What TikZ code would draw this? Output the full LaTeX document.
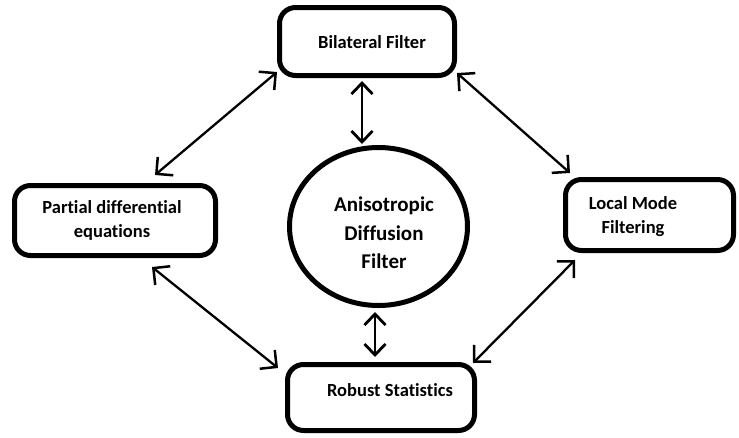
\documentclass[tikz,border=0pt]{standalone}
\usepackage{fontspec}
\setmainfont[Ligatures=NoCommon]{Carlito}
\usetikzlibrary{arrows.meta,calc,shapes.geometric}
\begin{document}
\begin{tikzpicture}[x=1pt,y=-1pt,
  box/.style={draw,line width=5pt,rounded corners=16pt,rectangle,inner sep=0pt},
  lbl/.style={font=\fontsize{18.5}{24.5}\selectfont\bfseries,align=center,inner sep=0pt},
  big/.style={font=\fontsize{21}{28.5}\selectfont\bfseries,align=center,inner sep=0pt},
  link/.style={line width=2.3pt,{Straight Barb[length=12pt,width=24pt,line width=2.5pt]}-{Straight Barb[length=12pt,width=24pt,line width=2.5pt]}},
  vlink/.style={line width=2.6pt,{Straight Barb[length=11pt,width=21pt,line width=2.8pt]}-{Straight Barb[length=11pt,width=21pt,line width=2.8pt]}}
]
\useasboundingbox (0,0) rectangle (739,437);
% boxes
\node[box,minimum width=175pt,minimum height=68pt] (top) at (367,41.5) {};
\node[box,minimum width=201pt,minimum height=70pt] (left) at (115,220.5) {};
\node[box,minimum width=168pt,minimum height=71pt] (right) at (649.5,215) {};
\node[box,minimum width=187pt,minimum height=66pt] (bot) at (381,397.5) {};
\node[draw,ellipse,line width=5pt,minimum width=178pt,minimum height=158pt,inner sep=0pt] (circ) at (378.5,226.5) {};
% texts
\node[lbl] (ttop) at (372,42) {Bilateral Filter};
\node[lbl] (tleft) at (112,220.5) {Partial differential\\equations};
\node[lbl] (tright) at (633,216.5) {Local Mode\\Filtering};
\node[lbl] (tbot) at (390,390) {Robust Statistics};
\node[big] (tcirc) at (384,233) {Anisotropic\\Diffusion\\Filter};
% connectors
\coordinate (v1a) at ($(top.south)+(-5,3)$);
\coordinate (v1b) at (v1a |- circ.north);
\draw[vlink] (v1a) -- ($(v1b)+(0,-1)$);
\coordinate (v2b) at ($(bot.north)+(-6,-5)$);
\coordinate (v2a) at ($(circ.south)+(-3.5,4)$);
\draw[vlink] (v2a -| v2b) -- (v2b);
\draw[link] ($(top.south west)+(0,-6)$) -- ($(left.north)+(40,-8)$);
\draw[link] ($(top.south east)+(0,-5)$) -- ($(right.north west)+(7,-4)$);
\draw[link] ($(left.south)+(37,9)$) -- ($(bot.north west)+(-7,6)$);
\draw[link] ($(right.south west)+(12,7)$) -- ($(bot.north east)+(-4,1)$);
\end{tikzpicture}
\end{document}
